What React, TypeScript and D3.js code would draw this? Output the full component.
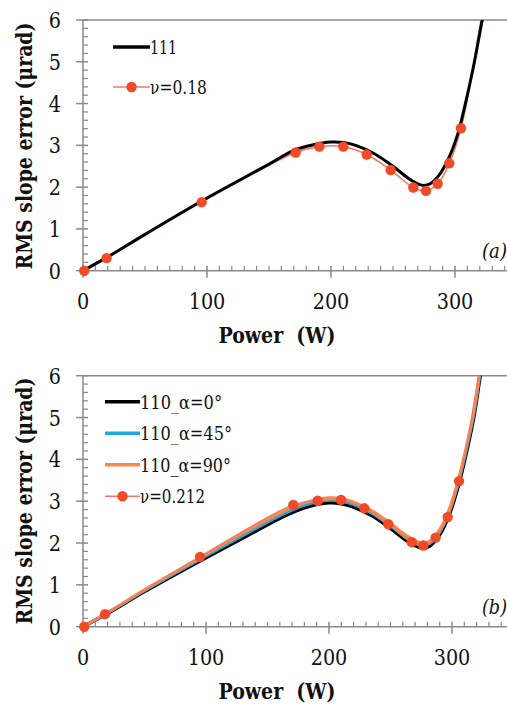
import React from "react";
import * as d3 from "d3";

type P = [number, number];

// Panel (a): 111 orientation
const a111X = [0, 20, 50, 100, 150, 170, 185, 200, 210, 220, 235, 250, 262, 270, 275, 280, 287, 295, 302, 308, 315, 322, 327];
const a111Y = [0, 0.33, 0.87, 1.74, 2.55, 2.88, 3.01, 3.08, 3.07, 3.0, 2.8, 2.5, 2.22, 2.08, 2.04, 2.08, 2.28, 2.7, 3.25, 3.95, 4.9, 6.0, 6.7];
const aNuX = [1, 19, 95.7, 171.5, 190.6, 209.9, 228.8, 248.1, 266.4, 276.6, 286, 295.4, 304.8];
const aNuY = [0, 0.3, 1.64, 2.83, 2.97, 2.97, 2.78, 2.41, 1.99, 1.91, 2.08, 2.57, 3.41];
const aNuTailX = [313, 321, 326];
const aNuTailY = [4.6, 6.0, 6.7];

// Panel (b): 110 orientation
const bX = [0, 20, 50, 100, 135, 160, 180, 200, 210, 220, 235, 250, 262, 270, 276, 282, 290, 298, 305, 312, 318, 323, 327];
const b0Y = [0, 0.32, 0.84, 1.65, 2.2, 2.59, 2.84, 2.96, 2.94, 2.86, 2.65, 2.35, 2.08, 1.94, 1.88, 1.93, 2.2, 2.7, 3.35, 4.2, 5.05, 6.0, 6.6];
const b45Y = [0, 0.33, 0.86, 1.69, 2.26, 2.65, 2.9, 3.02, 3.0, 2.92, 2.71, 2.41, 2.14, 2.0, 1.94, 1.99, 2.26, 2.76, 3.42, 4.27, 5.12, 6.08, 6.7];
const b90Y = [0, 0.34, 0.88, 1.73, 2.32, 2.71, 2.96, 3.08, 3.06, 2.98, 2.77, 2.47, 2.2, 2.06, 2.0, 2.05, 2.32, 2.83, 3.5, 4.35, 5.2, 6.15, 6.8];
const bNuX = [1, 17.9, 95.1, 171, 190.8, 209.8, 228.7, 248.2, 267.2, 276.7, 286.7, 296.5, 305.7];
const bNuY = [0, 0.3, 1.67, 2.91, 3.01, 3.03, 2.83, 2.45, 2.02, 1.94, 2.13, 2.62, 3.48];
const bNuTailX = [314, 322, 327];
const bNuTailY = [4.65, 6.05, 6.8];

const xTicks = [0, 100, 200, 300];
const yTicks = [0, 1, 2, 3, 4, 5, 6];

const zip = (xs: number[], ys: number[]): P[] => xs.map((x, i) => [x, ys[i]]);

const SERIF = "'DejaVu Serif Condensed', 'DejaVu Serif', serif";
const AXIS = "#8a8a8a";
const RED = "#f04a28";
const SALMON = "#f37a63";
const BLUE = "#1ea7e1";
const ORANGE = "#f7894a";

interface Series {
  data: P[];
  color: string;
  width: number;
  markers?: P[];
}
interface LegendItem {
  label: string;
  len: number;
  color: string;
  width: number;
  marker?: boolean;
}

function Panel(props: {
  id: string;
  top: number;
  bottom: number;
  xRangeEnd: number;
  series: Series[];
  legend: LegendItem[];
  legendX0: number;
  legendX1: number;
  legendY0: number;
  legendDy: number;
  tag: string;
  tagY: number;
  titleCy: number;
}) {
  const { top, bottom } = props;
  const left = 83;
  const x = d3.scaleLinear().domain([0, 350]).range([left, props.xRangeEnd]);
  const y = d3.scaleLinear().domain([0, 6]).range([bottom, top]);
  const line = d3
    .line<P>()
    .x((d) => x(d[0]))
    .y((d) => y(d[1]))
    .curve(d3.curveCatmullRom.alpha(0.5));
  const xMinor = d3.range(10, 350, 10).filter((v) => v % 100 !== 0);
  const yMinor = d3.range(0.2, 6, 0.2).filter((v) => Math.abs(v - Math.round(v)) > 0.01);
  const clipId = "clip-" + props.id;
  return (
    <g>
      <defs>
        <clipPath id={clipId}>
          <rect x={left - 10} y={top} width={520} height={bottom - top + 20} />
        </clipPath>
      </defs>
      <line x1={left} x2={507} y1={top} y2={top} stroke={AXIS} strokeWidth={1.5} />
      <line x1={left} x2={507} y1={bottom} y2={bottom} stroke={AXIS} strokeWidth={1.5} />
      <line x1={left} x2={left} y1={top} y2={bottom} stroke={AXIS} strokeWidth={1.5} />
      {xMinor.map((v) => (
        <line key={"xm" + v} x1={x(v)} x2={x(v)} y1={bottom} y2={bottom - 5} stroke={AXIS} strokeWidth={1.2} />
      ))}
      {xTicks.map((v) => (
        <line key={"xt" + v} x1={x(v)} x2={x(v)} y1={bottom - 5} y2={bottom + 7} stroke={AXIS} strokeWidth={1.5} />
      ))}
      {yMinor.map((v) => (
        <line key={"ym" + v} x1={left} x2={left + 5} y1={y(v)} y2={y(v)} stroke={AXIS} strokeWidth={1.2} />
      ))}
      {yTicks.map((v) => (
        <line key={"yt" + v} x1={left - 7} x2={left + 5} y1={y(v)} y2={y(v)} stroke={AXIS} strokeWidth={1.5} />
      ))}
      <g style={{ fontFamily: SERIF }}>
        {xTicks.map((v) => (
          <text
            key={"xl" + v}
            x={x(v)}
            y={bottom + 38}
            textAnchor="middle"
            fontSize={22}
            fill="#111"
            textLength={String(v).length * 12.2}
            lengthAdjust="spacingAndGlyphs"
          >
            {v}
          </text>
        ))}
        {yTicks.map((v) => (
          <text
            key={"yl" + v}
            x={61}
            y={y(v) + 8}
            textAnchor="end"
            fontSize={22}
            fill="#111"
            textLength={12.2}
            lengthAdjust="spacingAndGlyphs"
          >
            {v}
          </text>
        ))}
        <text
          x={277}
          y={bottom + 72}
          textAnchor="middle"
          fontSize={23}
          fontWeight="bold"
          fill="#111"
          style={{ whiteSpace: "pre" }}
          textLength={117}
          lengthAdjust="spacingAndGlyphs"
        >
          {"Power  (W)"}
        </text>
        <text
          transform={`translate(32,${props.titleCy}) rotate(-90)`}
          textAnchor="middle"
          fontSize={23}
          fontWeight="bold"
          fill="#111"
          textLength={247}
          lengthAdjust="spacingAndGlyphs"
        >
          RMS slope error (μrad)
        </text>
        <text
          x={507}
          y={props.tagY}
          textAnchor="end"
          fontSize={20}
          fontStyle="italic"
          fill="#111"
          textLength={25}
          lengthAdjust="spacingAndGlyphs"
        >
          {props.tag}
        </text>
      </g>
      <g clipPath={`url(#${clipId})`}>
        {props.series.map((s, i) => (
          <path key={"s" + i} d={line(s.data) || ""} fill="none" stroke={s.color} strokeWidth={s.width} strokeLinejoin="round" />
        ))}
        {props.series.map((s, i) =>
          (s.markers || []).map((m, j) => <circle key={"m" + i + "-" + j} cx={x(m[0])} cy={y(m[1])} r={5.2} fill={RED} />)
        )}
      </g>
      {props.legend.map((it, i) => {
        const ly = props.legendY0 + i * props.legendDy;
        return (
          <g key={"lg" + i}>
            <line x1={props.legendX0} x2={props.legendX1} y1={ly} y2={ly} stroke={it.color} strokeWidth={it.width} />
            {it.marker && <circle cx={(props.legendX0 + props.legendX1) / 2} cy={ly} r={5.2} fill={RED} />}
            <text
              x={props.legendX1}
              y={ly + 7}
              style={{ fontFamily: SERIF }}
              fontSize={19}
              fill="#111"
              textLength={it.len}
              lengthAdjust="spacingAndGlyphs"
            >
              {it.label}
            </text>
          </g>
        );
      })}
    </g>
  );
}

export default function App() {
  const aNuLine = zip(aNuX, aNuY).concat(zip(aNuTailX, aNuTailY));
  const bNuLine = zip(bNuX, bNuY).concat(zip(bNuTailX, bNuTailY));
  return (
    <svg width={507} height={705} style={{ position: "absolute", left: 0, top: 0, background: "#fff" }}>
      <Panel
        id="a"
        top={20}
        bottom={270.7}
        xRangeEnd={83 + 1.24 * 350}
        series={[
          { data: aNuLine, color: SALMON, width: 1.6, markers: zip(aNuX, aNuY) },
          { data: zip(a111X, a111Y), color: "#000", width: 3 },
        ]}
        legend={[
          { label: "111", len: 27, color: "#000", width: 3.5 },
          { label: "ν=0.18", len: 57, color: SALMON, width: 1.6, marker: true },
        ]}
        legendX0={113}
        legendX1={150}
        legendY0={47}
        legendDy={40}
        tag="(a)"
        tagY={258}
        titleCy={146}
      />
      <Panel
        id="b"
        top={375.7}
        bottom={626.7}
        xRangeEnd={83 + 1.23 * 350}
        series={[
          { data: zip(bX, b0Y), color: "#000", width: 3.5 },
          { data: zip(bX, b45Y), color: BLUE, width: 3 },
          { data: zip(bX, b90Y), color: ORANGE, width: 3 },
          { data: bNuLine, color: SALMON, width: 1.6, markers: zip(bNuX, bNuY) },
        ]}
        legend={[
          { label: "110_α=0°", len: 82, color: "#000", width: 3.5 },
          { label: "110_α=45°", len: 92, color: BLUE, width: 3.5 },
          { label: "110_α=90°", len: 91, color: ORANGE, width: 3.5 },
          { label: "ν=0.212", len: 65, color: SALMON, width: 1.6, marker: true },
        ]}
        legendX0={105}
        legendX1={140}
        legendY0={401.7}
        legendDy={31.5}
        tag="(b)"
        tagY={614}
        titleCy={501}
      />
    </svg>
  );
}
